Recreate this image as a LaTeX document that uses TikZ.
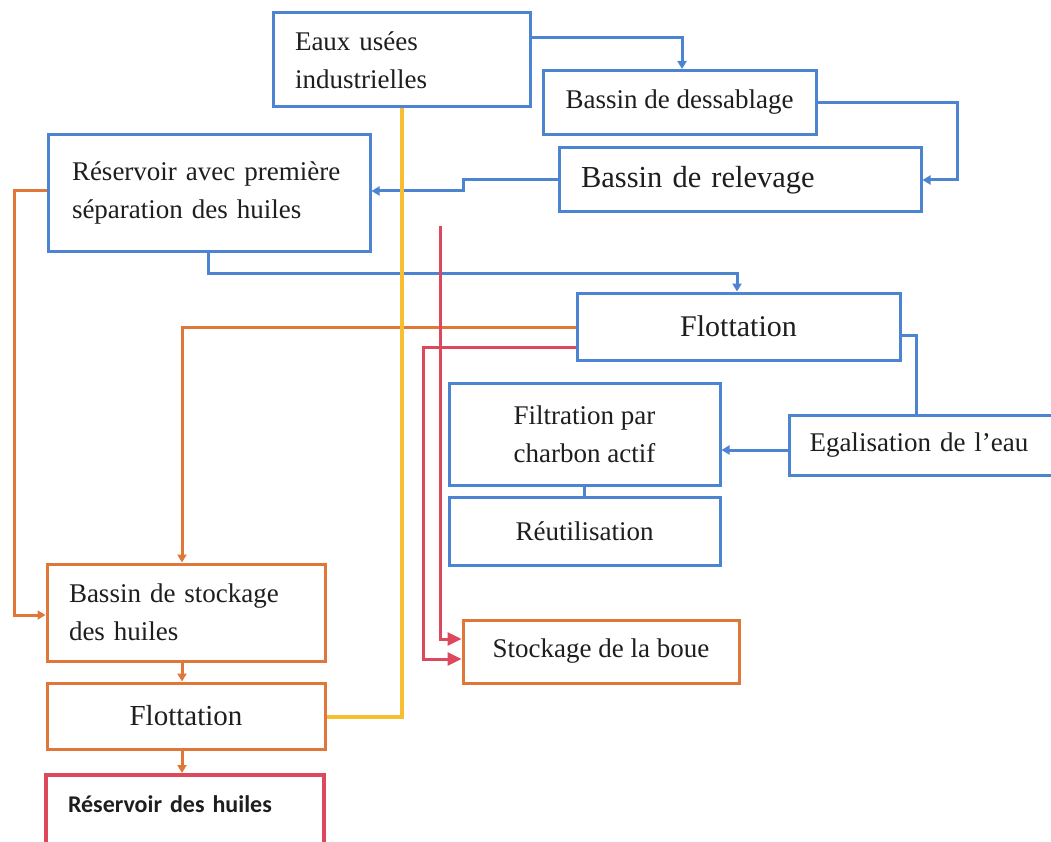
\documentclass[tikz,border=0pt]{standalone}
\usepackage{fontspec}
\setmainfont{Liberation Serif}
\newfontfamily\calib{Carlito}
\usetikzlibrary{arrows.meta}
\definecolor{cblue}{RGB}{76,132,210}
\definecolor{corange}{RGB}{224,118,56}
\definecolor{cyellow}{RGB}{248,190,50}
\definecolor{cred}{RGB}{222,72,92}
\definecolor{txt}{RGB}{30,30,30}
\begin{document}
\begin{tikzpicture}[x=1pt,y=-1pt,
  box/.style={draw, line width=3pt, fill=white, inner sep=0pt, text=txt,
    font=\fontsize{27}{38}\selectfont},
  lbox/.style={box, align=left},
  bbox/.style={box, draw=cblue},
  obox/.style={box, draw=corange},
  bline/.style={draw=cblue, line width=3pt},
  oline/.style={draw=corange, line width=3pt},
  yline/.style={draw=cyellow, line width=3.6pt},
  rline/.style={draw=cred, line width=3pt},
  barr/.style={bline, -{Triangle[length=8pt,width=9pt]}},
  oarr/.style={oline, -{Triangle[length=8pt,width=9pt]}},
  rarr/.style={rline, -{Triangle[length=14pt,width=13pt]}}]
\useasboundingbox (0,0) rectangle (1051,842);

% boxes
\node[bbox, lbox, minimum height=94pt, text width=213pt, inner xsep=22pt] (eaux) at (401.5,60) {Eaux usées\\industrielles};
\node[bbox, minimum width=273pt, minimum height=64pt] (dessab) at (679.5,102.5) {Bassin de dessablage};
\node[bbox, lbox, minimum height=64pt, text width=318pt, inner xsep=22pt, font=\fontsize{30.5}{38}\selectfont] (relev) at (740,180) {Bassin de relevage};
\node[bbox, lbox, minimum height=116pt, text width=274pt, inner xsep=24pt] (reserv) at (209,193) {Réservoir avec première\\séparation des huiles};
\node[bbox, minimum width=323pt, minimum height=67pt, font=\fontsize{30}{38}\selectfont] (flot1) at (738.5,326.5) {Flottation};
\node[bbox, lbox, anchor=west, minimum height=60pt, text width=235pt, inner xsep=20pt] (egal) at (788,445.5) {Egalisation de l'eau};
\node[bbox, align=center, minimum width=271pt, minimum height=102pt] (filt) at (584.5,434) {Filtration par\\charbon actif};
\node[bbox, minimum width=271pt, minimum height=68pt] (reut) at (584.5,531.5) {Réutilisation};
\node[obox, minimum width=276pt, minimum height=63pt] (boue) at (601,651.5) {Stockage de la boue};
\node[obox, lbox, minimum height=97pt, text width=234pt, inner xsep=22pt] (bstock) at (186,612.5) {Bassin de stockage\\des huiles};
\node[obox, minimum width=278pt, minimum height=66pt, font=\fontsize{29}{38}\selectfont] (flot2) at (186,716) {Flottation};
\node[box, draw=cred, line width=4pt, align=left, anchor=north, text width=234pt, inner xsep=22pt,
  text height=37pt, text depth=60pt, font=\calib\bfseries\fontsize{24}{30}\selectfont] (rhuile) at (185,773) {Réservoir des huiles};

% blue connectors
\draw[barr] (eaux.east |- 0,38) -| (682,0 |- dessab.north);
\draw[barr] (dessab.east) -- (957,0 |- dessab.east) |- (relev.east);
\draw[barr] (relev.west) -- (463,0 |- relev.west) |- (reserv.east |- 0,191);
\draw[barr] (208,0 |- reserv.south) |- (737,273) -- (737,0 |- flot1.north);
\draw[bline] (flot1.east |- 0,335) -| (916,0 |- egal.north);
\draw[barr] (egal.west |- 0,450) -- (filt.east |- 0,450);
\draw[bline] (filt.south) -- (reut.north);

% orange connectors
\draw[oarr] (reserv.west |- 0,191) -| (14,615) -- (bstock.west |- 0,615);
\draw[oarr] (flot1.west |- 0,327) -| (182,0 |- bstock.north);
\draw[oarr] (182,0 |- bstock.south) -- (182,0 |- flot2.north);
\draw[oarr] (182,0 |- flot2.south) -- (182,0 |- rhuile.north);

% yellow connector
\draw[yline] (402,0 |- eaux.south) |- (flot2.east |- 0,717);

% red connectors
\coordinate (rtop) at (440,226);
\draw[rarr] (rtop) |- (boue.west |- 0,639);
\draw[rarr] (flot1.west |- 0,347) -| (423,659) -- (boue.west |- 0,659);
\end{tikzpicture}
\end{document}
